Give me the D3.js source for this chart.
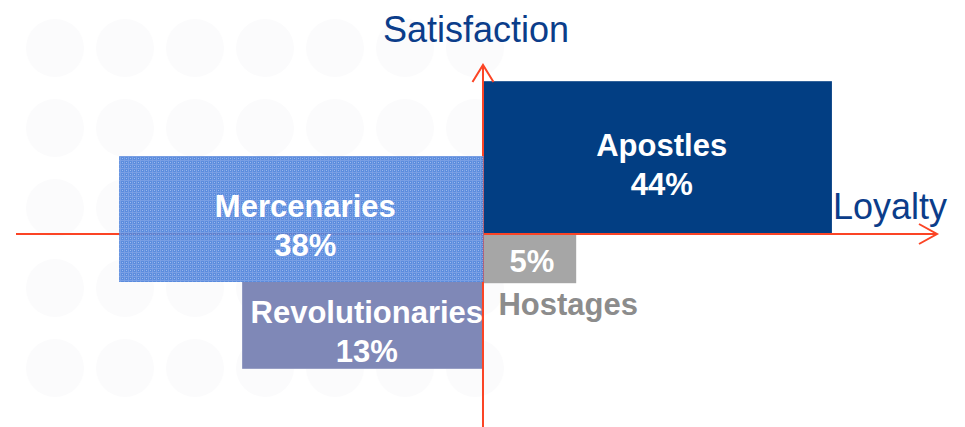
<!DOCTYPE html>
<html>
<head>
<meta charset="utf-8">
<script src="https://cdn.jsdelivr.net/npm/d3@7"></script>
<style>
  body { margin: 0; background: #fff; }
  svg { display: block; font-family: Arial, "Liberation Sans", sans-serif; }
</style>
</head>
<body>
<svg></svg>
<script>
var width  = 965,
    height = 427;

// segments of the loyalty / satisfaction matrix
var segments         = ["Apostles", "Mercenaries", "Revolutionaries", "Hostages"];
var shares           = [44, 38, 13, 5];
var loyaltyFrom      = [0, -91.2, -60.4, 0];
var loyaltyTo        = [87.2, 0, 0, 23.2];
var satisfactionFrom = [0, -12, -33.7, -12.3];
var satisfactionTo   = [38.2, 19.5, -12, 0];

var colors = {
  Apostles: "#023e83",
  Mercenaries: "url(#dots)",
  Revolutionaries: "#7f88b7",
  Hostages: "#a6a6a6"
};

var x = d3.scaleLinear().domain([-117, 113.5]).range([16, 937]);
var y = d3.scaleLinear().domain([-48.25, 42.25]).range([427, 65]);

var svg = d3.select("svg")
  .attr("width", width)
  .attr("height", height);

var defs = svg.append("defs");
var pat = defs.append("pattern")
  .attr("id", "dots")
  .attr("width", 4).attr("height", 4)
  .attr("patternUnits", "userSpaceOnUse");
pat.append("rect").attr("width", 4).attr("height", 4).attr("fill", "#4f84dc");
pat.append("rect").attr("width", 4).attr("height", 1).attr("fill", "#6f98e2");
pat.append("rect").attr("width", 1).attr("height", 4).attr("fill", "#6f98e2");
pat.append("rect").attr("x", 2).attr("y", 2).attr("width", 1).attr("height", 1).attr("fill", "#94b4ec");

// faint background watermark
var bg = svg.append("g");
d3.range(5).forEach(function(r) {
  d3.range(7).forEach(function(c) {
    bg.append("circle")
      .attr("cx", 55 + c * 70)
      .attr("cy", 48 + r * 80)
      .attr("r", 29)
      .attr("fill", "#fbfbfc");
  });
});

var data = segments.map(function(s, i) {
  return {
    name: s, share: shares[i],
    x0: loyaltyFrom[i], x1: loyaltyTo[i],
    y0: satisfactionFrom[i], y1: satisfactionTo[i]
  };
});

var red = "#fb4425";

function drawAxes(g) {
  g.append("line")
    .attr("x1", x(-117)).attr("x2", x(113.5))
    .attr("y1", y(0)).attr("y2", y(0))
    .attr("stroke", red).attr("stroke-width", 2);
  g.append("polyline")
    .attr("points", [[x(113.5) - 18, y(0) - 10], [x(113.5), y(0)], [x(113.5) - 18, y(0) + 10]].join(" "))
    .attr("fill", "none").attr("stroke", red).attr("stroke-width", 2);
  g.append("line")
    .attr("x1", x(0) - 0.5).attr("x2", x(0) - 0.5)
    .attr("y1", y(42.25)).attr("y2", y(-48.25))
    .attr("stroke", red).attr("stroke-width", 2);
  g.append("polyline")
    .attr("points", [[x(0) - 11, y(42.25) + 17], [x(0) - 0.5, y(42.25)], [x(0) + 10, y(42.25) + 17]].join(" "))
    .attr("fill", "none").attr("stroke", red).attr("stroke-width", 2);
}

var boxes = svg.append("g");
boxes.selectAll("rect")
  .data(data.filter(function(d) { return d.name != "Mercenaries"; }))
  .enter()
    .append("rect")
    .attr("x", function(d) { return x(d.x0); })
    .attr("y", function(d) { return y(d.y1); })
    .attr("width", function(d) { return x(d.x1) - x(d.x0); })
    .attr("height", function(d) { return y(d.y0) - y(d.y1); })
    .attr("fill", function(d) { return colors[d.name]; });

drawAxes(svg.append("g"));

// mercenaries box sits over the axis, which shows through faintly
var merc = data[1];
svg.append("rect")
  .attr("x", x(merc.x0))
  .attr("y", y(merc.y1))
  .attr("width", x(merc.x1) - x(merc.x0))
  .attr("height", y(merc.y0) - y(merc.y1))
  .attr("fill", colors.Mercenaries)
  .attr("opacity", 0.93);

// labels
var labels = svg.append("g")
  .attr("font-weight", "bold")
  .attr("font-size", 31)
  .attr("text-anchor", "middle");

data.forEach(function(d) {
  var cx = (x(d.x0) + x(d.x1)) / 2,
      cy = (y(d.y0) + y(d.y1)) / 2;
  if (y(d.y0) - y(d.y1) > 60) {
    labels.append("text").attr("x", cx + 4).attr("y", cy - 2)
      .attr("fill", "#fff").text(d.name);
    labels.append("text").attr("x", cx + 4).attr("y", cy + 37)
      .attr("fill", "#fff").text(d.share + "%");
  } else {
    labels.append("text").attr("x", cx + 2).attr("y", cy + 13)
      .attr("fill", "#fff").text(d.share + "%");
    labels.append("text").attr("x", x(d.x0) + 15).attr("y", y(d.y0) + 32)
      .attr("text-anchor", "start")
      .attr("fill", "#8c8c8c").text(d.name);
  }
});

// axis titles
svg.append("text")
  .attr("x", 476).attr("y", 42)
  .attr("text-anchor", "middle")
  .attr("font-size", 36)
  .attr("fill", "#0b3d8a")
  .text("Satisfaction");

svg.append("text")
  .attr("x", 833).attr("y", 219)
  .attr("font-size", 36)
  .attr("fill", "#0b3d8a")
  .text("Loyalty");
</script>
</body>
</html>
